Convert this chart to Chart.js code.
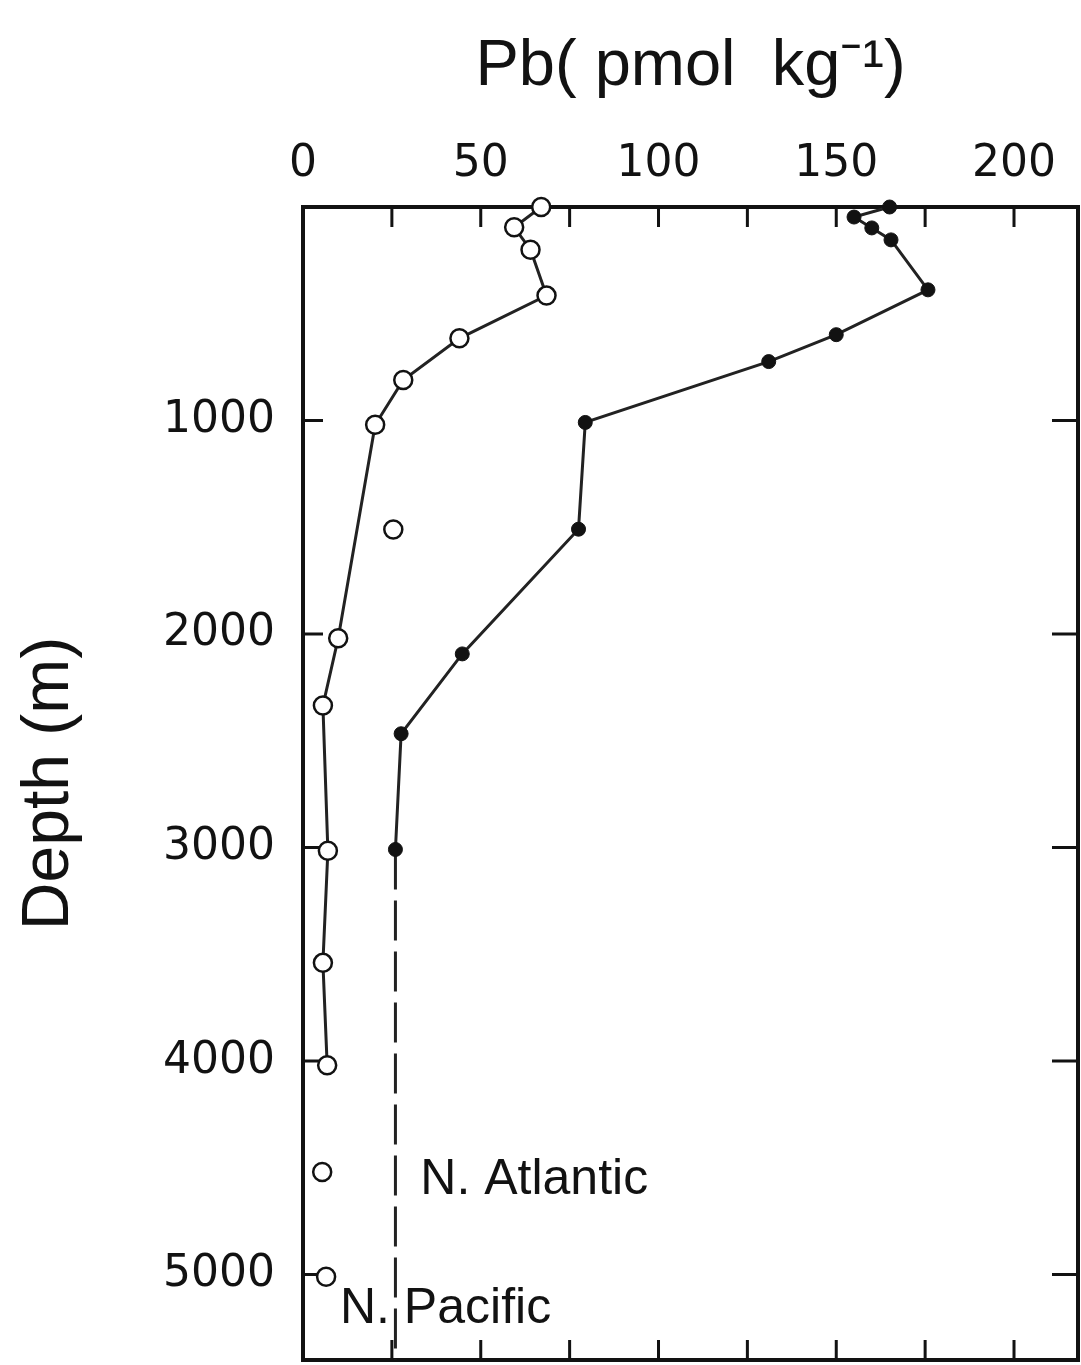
<!DOCTYPE html>
<html lang="en">
<head>
  <meta charset="UTF-8">
  <title>Pb depth profiles</title>
  <script src="https://cdn.jsdelivr.net/npm/chart.js"></script>
  <style>
    html, body { margin: 0; padding: 0; background: #fff; overflow: hidden; }
    canvas { display: block; }
  </style>
</head>
<body>
  <canvas id="pb-chart" width="1081" height="1365"></canvas>

  <script>
    // N. Atlantic profile (filled dots), Pb in pmol/kg vs depth in m
    const atlanticPb    = [165, 155, 160, 165.4, 175.8, 150, 131, 79.4, 77.5, 44.8, 27.6, 26];
    const atlanticDepth = [0, 47, 98, 154, 388, 598, 724, 1009, 1509, 2093, 2467, 3009];
    // dashed continuation below the deepest Atlantic sample
    const atlanticDeepPb    = [26, 26];
    const atlanticDeepDepth = [3009, 5400];

    // N. Pacific profile (open circles) joined by the line
    const pacificPb    = [67, 59.4, 64, 68.5, 44, 28.2, 20.3, 9.9, 5.6, 7.0, 5.6, 6.8];
    const pacificDepth = [0, 95, 200, 415, 615, 810, 1020, 2020, 2335, 3015, 3540, 4020];
    // Pacific samples left off the line
    const pacificLoosePb    = [25.4, 5.4, 6.5];
    const pacificLooseDepth = [1510, 4520, 5010];

    // tick positions and labels
    const pbTicks         = [0, 25, 50, 75, 100, 125, 150, 175, 200];
    const pbTickLabels    = [0, 50, 100, 150, 200];
    const depthTicks      = [0, 1000, 2000, 3000, 4000, 5000];
    const depthTickLabels = [1000, 2000, 3000, 4000, 5000];

    const ink = '#121212';
    const toPoints = (xs, ys) => xs.map((v, i) => ({ x: v, y: ys[i] }));

    // frame, inward ticks and the two region labels
    const frameAndTicks = {
      id: 'frameAndTicks',
      beforeDatasetsDraw(chart) {
        const { ctx, chartArea: a, scales: { x, y } } = chart;
        ctx.save();
        ctx.strokeStyle = ink;
        ctx.lineWidth = 3;
        ctx.beginPath();
        x.ticks.forEach(t => {
          const px = x.getPixelForValue(t.value);
          if (px < a.left + 3 || px > a.right - 3) return;
          ctx.moveTo(px, a.top); ctx.lineTo(px, a.top + 20);
          ctx.moveTo(px, a.bottom); ctx.lineTo(px, a.bottom - 20);
        });
        y.ticks.forEach(t => {
          const py = y.getPixelForValue(t.value);
          if (py < a.top + 3 || py > a.bottom - 3) return;
          ctx.moveTo(a.left, py); ctx.lineTo(a.left + 20, py);
          ctx.moveTo(a.right, py); ctx.lineTo(a.right - 26, py);
        });
        ctx.stroke();
        ctx.lineWidth = 4;
        ctx.strokeRect(a.left, a.top, a.right - a.left, a.bottom - a.top);
        ctx.restore();
      },
      afterDraw(chart) {
        const { ctx, scales: { x, y } } = chart;
        ctx.save();
        ctx.fillStyle = ink;
        ctx.font = '50px "Liberation Sans"';
        ctx.textBaseline = 'middle';
        ctx.textAlign = 'left';
        ctx.fillText('N. Atlantic', x.getPixelForValue(33), y.getPixelForValue(4560));
        ctx.fillText('N. Pacific', x.getPixelForValue(10.4), y.getPixelForValue(5160));
        ctx.restore();
      }
    };

    new Chart(document.getElementById('pb-chart'), {
      type: 'scatter',
      data: {
        datasets: [
          {
            label: 'N. Pacific (off line)',
            data: toPoints(pacificLoosePb, pacificLooseDepth),
            showLine: false,
            pointStyle: 'circle',
            pointRadius: 9,
            pointBorderWidth: 2.5,
            pointBackgroundColor: '#fff',
            pointBorderColor: ink,
            clip: false,
            order: 1
          },
          {
            label: 'N. Pacific',
            data: toPoints(pacificPb, pacificDepth),
            showLine: true,
            borderColor: '#222',
            borderWidth: 3,
            pointStyle: 'circle',
            pointRadius: 9,
            pointBorderWidth: 2.5,
            pointBackgroundColor: '#fff',
            pointBorderColor: ink,
            clip: false,
            order: 2
          },
          {
            label: 'N. Atlantic',
            data: toPoints(atlanticPb, atlanticDepth),
            showLine: true,
            borderColor: '#222',
            borderWidth: 3,
            pointStyle: 'circle',
            pointRadius: 7,
            pointBorderWidth: 1,
            pointBackgroundColor: ink,
            pointBorderColor: ink,
            clip: false,
            order: 3
          },
          {
            label: 'N. Atlantic (deep)',
            data: toPoints(atlanticDeepPb, atlanticDeepDepth),
            showLine: true,
            borderColor: '#222',
            borderWidth: 3,
            borderDash: [40, 11],
            pointRadius: 0,
            order: 4
          }
        ]
      },
      options: {
        responsive: false,
        animation: false,
        layout: { autoPadding: false, padding: { top: 0, left: 0, right: 3, bottom: 5 } },
        plugins: { legend: { display: false }, tooltip: { enabled: false } },
        scales: {
          x: {
            type: 'linear',
            position: 'top',
            min: 0,
            max: 218,
            grid: { display: false, drawTicks: false },
            border: { display: false },
            ticks: {
              autoSkip: false,
              maxRotation: 0,
              padding: 16,
              color: ink,
              font: { family: 'DejaVu Sans', size: 44 },
              callback: v => pbTickLabels.includes(v) ? String(v) : ''
            },
            title: {
              display: true,
              text: 'Pb( pmol  kg\u207B\u00B9)',
              color: ink,
              font: { family: 'Liberation Sans', size: 65 },
              padding: { top: 28, bottom: 0 }
            },
            afterBuildTicks: s => { s.ticks = pbTicks.map(v => ({ value: v })); },
            afterFit: s => { s.height = 207; s.paddingLeft = 0; s.paddingRight = 0; }
          },
          y: {
            type: 'linear',
            reverse: true,
            min: 0,
            max: 5400,
            grid: { display: false, drawTicks: false },
            border: { display: false },
            ticks: {
              autoSkip: false,
              padding: 28,
              color: ink,
              font: { family: 'DejaVu Sans', size: 44 },
              callback: v => depthTickLabels.includes(v) ? String(v) : ''
            },
            title: {
              display: true,
              text: 'Depth (m)',
              color: ink,
              font: { family: 'Liberation Sans', size: 66 },
              padding: { top: 10, bottom: 0 }
            },
            afterBuildTicks: s => { s.ticks = depthTicks.map(v => ({ value: v })); },
            afterFit: s => { s.width = 303; s.paddingTop = 0; s.paddingBottom = 0; }
          }
        }
      },
      plugins: [frameAndTicks]
    });
  </script>
</body>
</html>
